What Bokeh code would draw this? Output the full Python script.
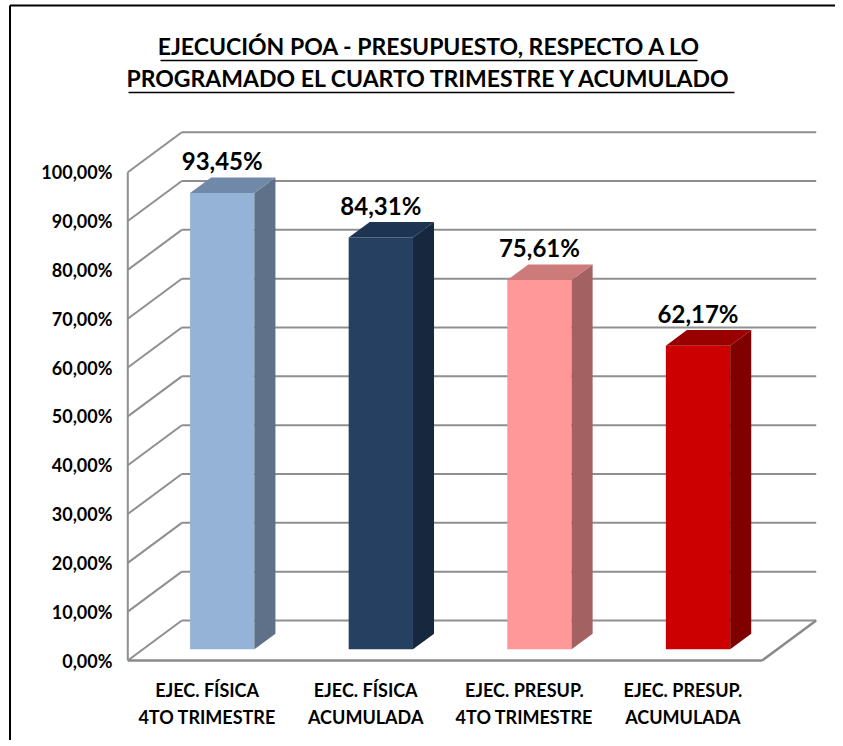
from bokeh.plotting import figure
from bokeh.models import Range1d
from bokeh.core.properties import value
from bokeh.embed import file_html
from bokeh.resources import INLINE

# ---------------- data ----------------
cat_line1 = ["EJEC. FÍSICA", "EJEC. FÍSICA", "EJEC. PRESUP.", "EJEC. PRESUP."]
cat_line2 = ["4TO TRIMESTRE", "ACUMULADA", "4TO TRIMESTRE", "ACUMULADA"]
values = [93.45, 84.31, 75.61, 62.17]
front_colors = ["#95B3D7", "#254061", "#FF9999", "#CC0000"]
side_colors = ["#5F7189", "#17283E", "#A36161", "#800000"]
top_colors = ["#7189A8", "#1E3453", "#CC7A7A", "#990000"]
ticks = [0, 10, 20, 30, 40, 50, 60, 70, 80, 90, 100]
title_lines = ["EJECUCIÓN POA - PRESUPUESTO, RESPECTO A LO",
               "PROGRAMADO EL CUARTO TRIMESTRE Y ACUMULADO"]

def pct(v):
    return f"{v:.2f}".replace(".", ",") + "%"

tick_labels = [pct(t) for t in ticks]
value_labels = [pct(v) for v in values]

# ---------------- layout (page pixels -> data) ----------------
OX, OY = 0, 0            # page position of the figure
W, H = 835, 740
X0, UX = 127.3, 158.6    # page x of category 0, pixels per category
Y0, UY = 660.0, 4.883    # page y of 0 %, pixels per percent

def dx(px):
    return (px - X0) / UX

def dy(py):
    return (Y0 - py) / UY

DX = 54 / UX     # depth offset (x) of back wall
DY = 40 / UY     # depth offset (y) of back wall
F0 = 0.28        # bar front depth fraction
FB = 0.39        # bar depth fraction
BW = 64.3 / UX   # bar width
N = len(values)

p = figure(width=W, height=H, output_backend="svg", toolbar_location=None,
           x_range=Range1d(dx(OX), dx(OX + W)), y_range=Range1d(dy(OY + H), dy(OY)),
           min_border=0, outline_line_color=None)
p.axis.visible = False
p.grid.visible = False
p.background_fill_color = "white"

GRID = "#8f8f8f"
# back wall gridlines + left wall diagonals
p.segment(x0=[DX] * len(ticks), y0=[t + DY for t in ticks],
          x1=[N + DX] * len(ticks), y1=[t + DY for t in ticks],
          line_color=GRID, line_width=2)
p.segment(x0=[0] * len(ticks), y0=ticks,
          x1=[DX] * len(ticks), y1=[t + DY for t in ticks],
          line_color=GRID, line_width=2)
# front left axis line
p.segment(x0=[0], y0=[0], x1=[0], y1=[max(ticks)], line_color=GRID, line_width=2)
# floor front & right edge
p.segment(x0=[0, N], y0=[0, 0], x1=[N, N + DX], y1=[0, DY],
          line_color="#8a8a8a", line_width=2.5)

# bars
cx = [i + 0.5 + F0 * DX for i in range(N)]
b0 = F0 * DY
bdx, bdy = FB * DX, FB * DY
fx, fy, sx, sy, tx, ty = [], [], [], [], [], []
for c, v in zip(cx, values):
    l, r = c - BW / 2, c + BW / 2
    t = v + b0
    fx.append([l, r, r, l]); fy.append([b0, b0, t, t])
    sx.append([r, r + bdx, r + bdx, r]); sy.append([b0, b0 + bdy, t + bdy, t])
    tx.append([l, r, r + bdx, l + bdx]); ty.append([t, t, t + bdy, t + bdy])
p.patches(xs=fx, ys=fy, fill_color=front_colors, line_color=None)
p.patches(xs=sx, ys=sy, fill_color=side_colors, line_color=None)
p.patches(xs=tx, ys=ty, fill_color=top_colors, line_color=None)

FONT = value("Lato")
# value labels
p.text(x=cx, y=[v + b0 + bdy + 0.5 for v in values], text=value_labels,
       text_font=FONT, text_font_style="bold", text_font_size=value("24px"),
       text_align="center", text_baseline="bottom", text_color="black")

# y tick labels
p.text(x=[dx(112)] * len(ticks), y=ticks, text=tick_labels,
       text_font=FONT, text_font_style="bold", text_font_size=value("18px"),
       text_align="right", text_baseline="middle", text_color="black")

# category labels
catx = [i + 0.5 for i in range(N)]
p.text(x=catx, y=[dy(689)] * N, text=cat_line1,
       text_font=FONT, text_font_style="bold", text_font_size=value("18px"),
       text_align="center", text_baseline="middle", text_color="black")
p.text(x=catx, y=[dy(716)] * N, text=cat_line2,
       text_font=FONT, text_font_style="bold", text_font_size=value("18px"),
       text_align="center", text_baseline="middle", text_color="black")

# title with underline
tcx = dx(429)
p.text(x=[tcx, tcx], y=[dy(45), dy(77)], text=title_lines,
       text_font=FONT, text_font_style="bold", text_font_size=value("23px"),
       text_align="center", text_baseline="middle", text_color="black")
p.segment(x0=[dx(160), dx(128)], y0=[dy(60), dy(92)],
          x1=[dx(697), dx(734)], y1=[dy(60), dy(92)],
          line_color="black", line_width=1.5)

# chart border (left and top)
p.segment(x0=[dx(9.5), dx(9.5)], y0=[dy(5), dy(5)], x1=[dx(9.5), dx(OX + W)], y1=[dy(OY + H), dy(5)],
          line_color="black", line_width=2)

open("out.html", "w").write(file_html(p, INLINE))
